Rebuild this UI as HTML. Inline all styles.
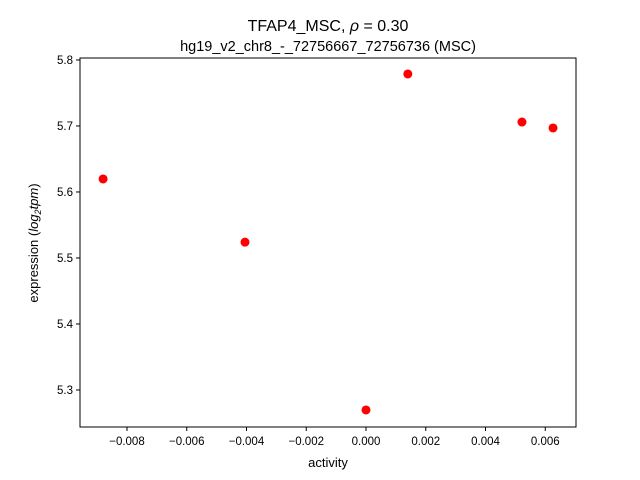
<!DOCTYPE html>
<html><head><meta charset="utf-8"><style>
body{margin:0;background:#fff;}
svg{display:block;font-family:"Liberation Sans","DejaVu Sans",sans-serif;}
</style></head><body>
<svg id="chart" width="640" height="480">
<rect width="640" height="480" fill="#fff"/>
<text x="328" y="31" font-size="16" text-anchor="middle">TFAP4_MSC, <tspan font-style="italic">ρ</tspan> = 0.30</text>
<text x="328" y="51" font-size="14.5" text-anchor="middle">hg19_v2_chr8_-_72756667_72756736 (MSC)</text>
<text x="328" y="467" font-size="13" text-anchor="middle">activity</text>
<text transform="translate(38,243) rotate(-90)" font-size="13" text-anchor="middle">expression (<tspan font-style="italic">log</tspan><tspan font-size="9" dy="3" font-style="italic">2</tspan><tspan dy="-3" font-style="italic">tpm</tspan>)</text>
<g id="ticks"></g>
<g id="points"></g>
<rect x="80" y="58" width="496" height="369" fill="none" stroke="#000" stroke-width="1"/>
</svg>
<script>
const xVals=[-0.0088,-0.00405,0.0,0.0014,0.00522,0.00626];
const yVals=[5.6197,5.524,5.2697,5.7788,5.706,5.697];
const xTicks=[-0.008,-0.006,-0.004,-0.002,0.000,0.002,0.004,0.006];
const xTickLabels=["−0.008","−0.006","−0.004","−0.002","0.000","0.002","0.004","0.006"];
const yTicks=[5.3,5.4,5.5,5.6,5.7,5.8];
const yTickLabels=["5.3","5.4","5.5","5.6","5.7","5.8"];
const X0=80,X1=576,Y0=58,Y1=427;
const xMin=-0.009573,xMax=0.007029,yMin=5.2439,yMax=5.803;
const sx=v=>X0+(v-xMin)/(xMax-xMin)*(X1-X0);
const sy=v=>Y1-(v-yMin)/(yMax-yMin)*(Y1-Y0);
const NS="http://www.w3.org/2000/svg";
const tg=document.getElementById('ticks'),pg=document.getElementById('points');
xTicks.forEach((t,i)=>{
  const x=sx(t);
  const l=document.createElementNS(NS,'line');
  l.setAttribute('x1',x);l.setAttribute('x2',x);l.setAttribute('y1',Y1);l.setAttribute('y2',Y1+4);l.setAttribute('stroke','#000');
  
  
  tg.appendChild(l);
  const tx=document.createElementNS(NS,'text');
  tx.setAttribute('x',x);tx.setAttribute('y',Y1+18);tx.setAttribute('font-size','11.5');tx.setAttribute('text-anchor','middle');
  tx.textContent=xTickLabels[i];
  
  
  tg.appendChild(tx);
});
yTicks.forEach((t,i)=>{
  const y=sy(t);
  const l=document.createElementNS(NS,'line');
  l.setAttribute('x1',X0-4);l.setAttribute('x2',X0);l.setAttribute('y1',y);l.setAttribute('y2',y);l.setAttribute('stroke','#000');
  
  
  tg.appendChild(l);
  const tx=document.createElementNS(NS,'text');
  tx.setAttribute('x',X0-7);tx.setAttribute('y',y+4);tx.setAttribute('font-size','11.5');tx.setAttribute('text-anchor','end');
  tx.textContent=yTickLabels[i];
  
  
  tg.appendChild(tx);
});
xVals.forEach((v,i)=>{
  const c=document.createElementNS(NS,'circle');
  c.setAttribute('cx',sx(v));c.setAttribute('cy',sy(yVals[i]));c.setAttribute('r','4.5');c.setAttribute('fill','#ff0000');
  
  
  pg.appendChild(c);
});
</script>
</body></html>
